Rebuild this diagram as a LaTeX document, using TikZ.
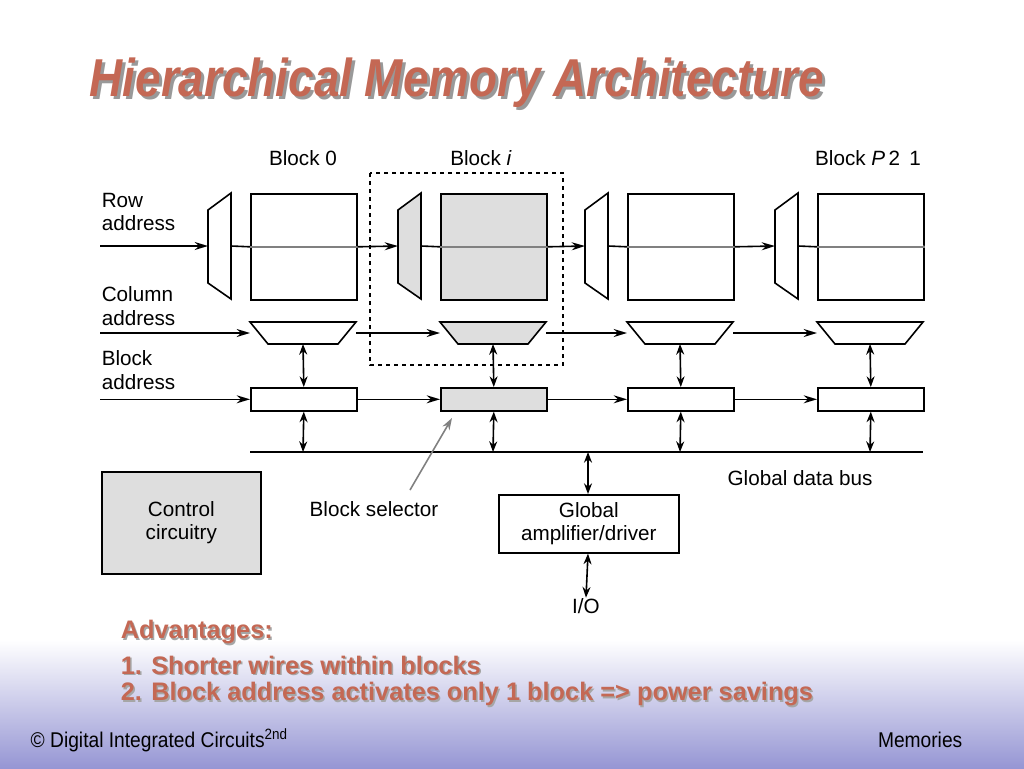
\documentclass[tikz,border=0pt]{standalone}
\usepackage{fontspec}
\setmainfont{Liberation Sans}
\usetikzlibrary{arrows.meta}
\definecolor{ttl}{RGB}{196,104,84}
\definecolor{lav}{RGB}{150,150,212}
\definecolor{fillg}{RGB}{222,222,222}
\begin{document}
\begin{tikzpicture}[x=0.75pt,y=-0.75pt,line width=1.2pt,
  arr/.style={-{Stealth[length=10pt,width=6pt]}},
  darr/.style={{Stealth[length=8pt,width=6pt]}-{Stealth[length=8pt,width=6pt]}},
  lbl/.style={font=\fontsize{15.5}{17.5}\selectfont,inner sep=0pt},
  box/.style={draw,minimum width=106*0.75pt,inner sep=0pt},
  adv/.style={font=\bfseries\fontsize{19}{21}\selectfont,anchor=west,inner sep=0pt},
  ttlf/.style={font=\bfseries\itshape\fontsize{40}{44}\selectfont,xscale=0.86,inner sep=0pt,anchor=west}]
\useasboundingbox (0,0) rectangle (1024,768);
\shade[top color=white,bottom color=lav] (0,640) rectangle (1024,768);
% title
\node[ttlf,text=black!40] (tsh) at (92,86) {Hierarchical Memory Architecture};
\node[ttlf,text=ttl] (title) at (89,83) {Hierarchical Memory Architecture};
% dashed frame
\draw[dashed] (370,173) rectangle (563,365);
% labels
\node[lbl] (l0) at (303,158) {Block 0};
\node[lbl] (li) at (481,158) {Block \textit{i}};
\node[lbl] (lp) at (868,158) {Block \textit{P}\,2\,\ 1};
\node[lbl,align=left,anchor=west] (ra) at (101,212) {Row\\address};
\node[lbl,align=left,anchor=west] (ca) at (101,306) {Column\\address};
\node[lbl,align=left,anchor=west] (ba) at (101,370) {Block\\address};
\coordinate (rs) at (100,246);
\coordinate (cs) at (100,333);
\coordinate (bus0) at (250,452);
\coordinate (bus1) at (923,452);
\draw (bus0) -- (bus1);
\foreach \i/\bx/\f in {0/250/white,1/440/fillg,2/627/white,3/817/white}{
  % row decoder
  \filldraw[fill=\f] (\bx-42,210) -- (\bx-19,193) -- (\bx-19,299) -- (\bx-42,283) -- cycle;
  \coordinate (rdl\i) at (\bx-42,246);
  \coordinate (rdr\i) at (\bx-19,246);
  \node[box,fill=\f,minimum height=106*0.75pt,anchor=north west] (blk\i) at (\bx,193) {};
  % column decoder
  \filldraw[fill=\f] (\bx,322) -- (\bx+106,322) -- (\bx+88,344) -- (\bx+18,344) -- cycle;
  \coordinate (cdt\i) at (\bx,333);
  \coordinate (cdr\i) at (\bx+106,333);
  \coordinate (cdb\i) at (\bx+53,344);
  \node[box,fill=\f,minimum height=23*0.75pt,anchor=north west] (sel\i) at (\bx,387) {};
  \coordinate (bt\i) at (\bx+53,452);
  \draw (rdr\i) -- (blk\i.west);
  \draw[darr] (cdb\i) -- (sel\i.north);
  \draw[darr] (sel\i.south) -- (bt\i);
}
\coordinate (bs) at (sel0.west -| rs);
\foreach \i in {0,1,2,3} \draw[gray] (blk\i.west) -- (blk\i.east);
\draw[arr] (rs) -- (rdl0);
\draw[arr] (cs) -- (cdt0);
\draw[arr] (bs) -- (sel0.west);
\foreach \a/\b in {0/1,1/2,2/3}{
  \draw[arr] (blk\a.east) -- (rdl\b);
  \draw[arr] (cdr\a) -- (cdt\b);
  \draw[arr] (sel\a.east) -- (sel\b.west);
}
\coordinate (rend) at (923,246);
\draw[gray] (blk3.east) -- (rend);
% lower part
\node[draw,fill=fillg,minimum width=159*0.75pt,minimum height=102*0.75pt,anchor=north west,lbl,align=center] (ctl) at (101,471) {Control\\circuitry};
\node[draw,minimum width=180*0.75pt,minimum height=58*0.75pt,anchor=north west,lbl,align=center] (amp) at (498,494) {Global\\amplifier/driver};
\coordinate (bamp) at (588,452);
\draw[darr] (bamp) -- (amp.north -| bamp);
\node[lbl] (io) at (586,606) {I/O};
\draw[darr] (amp.south -| bamp) -- (io.north);
\node[lbl] (gdb) at (800,478) {Global data bus};
\node[lbl] (bsl) at (374,509) {Block selector};
\coordinate (bst) at (452,418);
\coordinate (bsa) at (410,490);
\draw[gray,-{Stealth[length=9pt,width=6pt]}] (bsa) -- (bst);
% advantages
\foreach \dx/\c in {1.5/black!35,0/ttl}{
  \node[adv,text=\c] at (120+\dx,632+\dx) {Advantages:};
  \node[adv,text=\c] at (120+\dx,665+\dx) {1. Shorter wires within blocks};
  \node[adv,text=\c] at (120+\dx,694+\dx) {2. Block address activates only 1 block => power savings};
}
\node[font=\fontsize{16}{18}\selectfont,anchor=west,inner sep=0pt,xscale=0.9] (ft) at (30,740) {\copyright{} Digital Integrated Circuits\textsuperscript{2nd}};
\node[font=\fontsize{16}{18}\selectfont,anchor=east,inner sep=0pt,xscale=0.9] (mem) at (963,740) {Memories};
\end{tikzpicture}
\end{document}
